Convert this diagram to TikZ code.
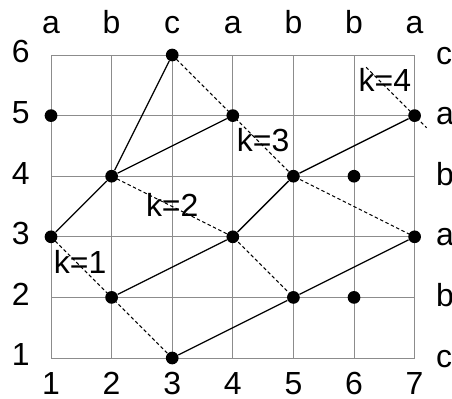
\documentclass[tikz,border=0pt]{standalone}
\usepackage{fontspec}
\setmainfont{Liberation Sans}
\usepackage{tikz}
\usetikzlibrary{positioning}

\begin{document}
\begin{tikzpicture}[
  font=\fontsize{15}{18}\selectfont,
  gridl/.style={draw=black!45,line width=0.45pt},
  dot/.style={circle,fill=black,inner sep=0pt,minimum size=0.21cm},
  edge/.style={line width=0.6pt},
  dline/.style={line width=0.5pt,dash pattern=on 1.6pt off 1.2pt},
  klab/.style={inner sep=0pt,fill=none}
]
\useasboundingbox (0.158,0.34) rectangle (7.617,6.908);
\draw[gridl] (1,1) grid (7,6);
% axis labels
\foreach \i in {1,...,7} \node[anchor=base] (bx\i) at (\i,0.39) {\i};
\foreach \j in {1,...,6} \node[anchor=base] (ly\j) at (0.5,\j-0.13) {\j};
\foreach \i/\t in {1/a,2/b,3/c,4/a,5/b,6/b,7/a} \node[anchor=base] (tx\i) at (\i,6.36) {\t};
\foreach \j/\t in {1/c,2/b,3/a,4/b,5/a,6/c} \node[anchor=base west,inner sep=0pt] (ry\j) at (7.35,\j-0.15) {\t};
% points
\node[dot] (v15) at (1,5) {};
\node[dot] (v13) at (1,3) {};
\node[dot] (v24) at (2,4) {};
\node[dot] (v22) at (2,2) {};
\node[dot] (v36) at (3,6) {};
\node[dot] (v31) at (3,1) {};
\node[dot] (v45) at (4,5) {};
\node[dot] (v43) at (4,3) {};
\node[dot] (v54) at (5,4) {};
\node[dot] (v52) at (5,2) {};
\node[dot] (v64) at (6,4) {};
\node[dot] (v62) at (6,2) {};
\node[dot] (v75) at (7,5) {};
\node[dot] (v73) at (7,3) {};
\coordinate (k4a) at (6.2,5.8);
\coordinate (k4b) at (7.2,4.8);
% k labels
\node[klab] (k1) at (1.48,2.58) {k=1};
\node[klab] (k2) at (3.0,3.53) {k=2};
\node[klab] (k3) at (4.5,4.59) {k=3};
\node[klab] (k4) at (6.51,5.59) {k=4};
% solid edges
\draw[edge] (v13)--(v24);
\draw[edge] (v24)--(v36);
\draw[edge] (v24)--(v45);
\draw[edge] (v22)--(v43);
\draw[edge] (v43)--(v54);
\draw[edge] (v54)--(v75);
\draw[edge] (v31)--(v52);
\draw[edge] (v52)--(v73);
% dashed fronts
\draw[dline] (v13.center)--(v22.center)--(v31.center);
\draw[dline] (v24.center)--(v43.center)--(v52.center);
\draw[dline] (v36.center)--(v45.center)--(v54.center)--(v73.center);
\draw[dline] (k4a)--(v75.center)--(k4b);
\end{tikzpicture}
\end{document}
